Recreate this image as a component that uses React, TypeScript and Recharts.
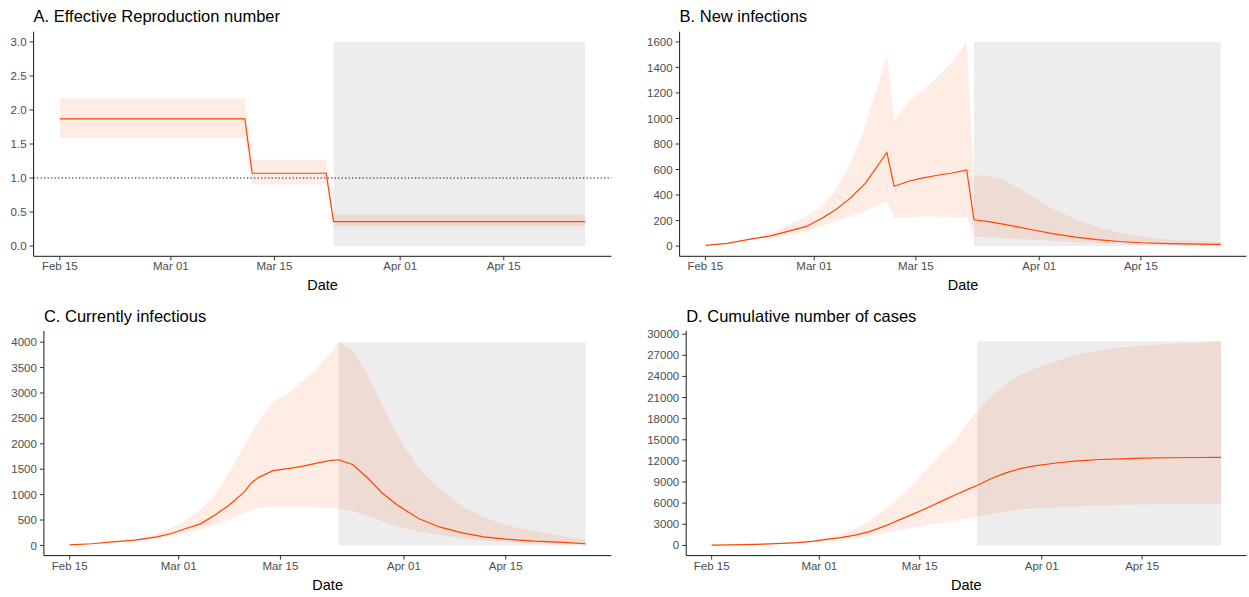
import React from 'react';
import {
  ComposedChart,
  Area,
  Line,
  XAxis,
  YAxis,
  ReferenceArea,
  ReferenceLine,
} from 'recharts';

// day index 0 = Feb 15
const days = [0, 3, 6, 9, 12, 14, 16, 18, 20, 22, 24, 25, 26, 28, 30, 32, 34, 36, 37, 39, 41, 43, 45, 48, 51, 54, 57, 60, 64, 68, 71];
const dateTicks = [0, 15, 29, 46, 60];
const dateLabels = ['Feb 15', 'Mar 01', 'Mar 15', 'Apr 01', 'Apr 15'];
const shadeStart = 37;
const shadeEnd = 71;

// A. Effective reproduction number
const rMid = [1.87, 1.87, 1.87, 1.87, 1.87, 1.87, 1.87, 1.87, 1.87, 1.87, 1.87, 1.87, 1.07, 1.07, 1.07, 1.07, 1.07, 1.07, 0.36, 0.36, 0.36, 0.36, 0.36, 0.36, 0.36, 0.36, 0.36, 0.36, 0.36, 0.36, 0.36];
const rLo = [1.59, 1.59, 1.59, 1.59, 1.59, 1.59, 1.59, 1.59, 1.59, 1.59, 1.59, 1.59, 0.91, 0.91, 0.91, 0.91, 0.91, 0.91, 0.29, 0.29, 0.29, 0.29, 0.29, 0.29, 0.29, 0.29, 0.29, 0.29, 0.29, 0.29, 0.29];
const rHi = [2.17, 2.17, 2.17, 2.17, 2.17, 2.17, 2.17, 2.17, 2.17, 2.17, 2.17, 2.17, 1.27, 1.27, 1.27, 1.27, 1.27, 1.27, 0.46, 0.46, 0.46, 0.46, 0.46, 0.46, 0.46, 0.46, 0.46, 0.46, 0.46, 0.46, 0.46];

// B. New infections
const newMid = [5, 22, 52, 80, 125, 156, 216, 287, 378, 490, 651, 734, 469, 508, 534, 555, 573, 596, 206, 192, 172, 150, 128, 96, 70, 50, 36, 26, 19, 15, 13];
const newLo = [4, 18, 45, 65, 91, 117, 156, 195, 234, 273, 325, 351, 221, 226, 231, 230, 228, 226, 78, 70, 62, 56, 52, 42, 31, 24, 18, 13, 9, 6, 5];
const newHi = [5, 24, 58, 100, 182, 234, 312, 443, 651, 937, 1301, 1496, 984, 1132, 1223, 1327, 1444, 1595, 556, 552, 520, 460, 390, 286, 210, 150, 105, 78, 50, 38, 31];

// C. Currently infectious
const curMid = [10, 33, 72, 105, 170, 235, 333, 425, 600, 800, 1050, 1230, 1340, 1471, 1510, 1556, 1621, 1673, 1686, 1588, 1327, 1033, 804, 529, 359, 248, 170, 124, 85, 59, 33];
const curLo = [8, 30, 65, 90, 137, 183, 248, 314, 412, 510, 641, 690, 739, 758, 758, 755, 748, 739, 725, 673, 575, 477, 379, 281, 203, 137, 98, 72, 39, 26, 13];
const curHi = [10, 35, 78, 125, 229, 346, 500, 700, 1000, 1450, 1950, 2200, 2450, 2820, 3000, 3230, 3480, 3800, 4000, 3843, 3353, 2765, 2176, 1523, 1098, 771, 556, 399, 281, 183, 118];

// D. Cumulative number of cases
const cumMid = [30, 60, 140, 240, 380, 560, 850, 1100, 1450, 1950, 2700, 3100, 3550, 4400, 5300, 6250, 7200, 8100, 8500, 9500, 10300, 10900, 11300, 11700, 12000, 12200, 12300, 12400, 12450, 12480, 12500];
const cumLo = [20, 40, 100, 180, 320, 430, 600, 780, 1000, 1300, 1700, 1900, 2100, 2500, 2850, 3150, 3500, 3850, 4100, 4500, 4800, 5050, 5250, 5400, 5550, 5650, 5750, 5800, 5850, 5870, 5880];
const cumHi = [30, 60, 160, 260, 450, 700, 1050, 1600, 2400, 3500, 5000, 5800, 6700, 8600, 10800, 13000, 15000, 17800, 19000, 21200, 22900, 24200, 25100, 26200, 27100, 27700, 28100, 28400, 28600, 28800, 29000];

const rTicks = [0, 0.5, 1, 1.5, 2, 2.5, 3];
const newTicks = [0, 200, 400, 600, 800, 1000, 1200, 1400, 1600];
const curTicks = [0, 500, 1000, 1500, 2000, 2500, 3000, 3500, 4000];
const cumTicks = [0, 3000, 6000, 9000, 12000, 15000, 18000, 21000, 24000, 27000, 30000];

const FONT = '"Liberation Sans", Arial, Helvetica, sans-serif';
const RED = '#FF4500';

function buildRows(mid: number[], lo: number[], hi: number[]) {
  return days.map((day, i) => ({ day, mid: mid[i], band: [lo[i], hi[i]] }));
}

interface PanelProps {
  title: string;
  left: number;
  top: number;
  width: number;
  height: number;
  yWidth: number;
  plotTop: number;
  plotRight: number;
  yDomain: [number, number];
  yTicks: number[];
  yFormat?: (v: number) => string;
  shadeTop: number;
  rows: any[];
  refLine?: number;
}

function Panel({ title, left, top, width, height, yWidth, plotTop, plotRight, yDomain, yTicks, yFormat, shadeTop, rows, refLine }: PanelProps) {
  const xHeight = 34;
  const plotBottom = plotTop + 224.6;
  return (
    <div style={{ position: 'absolute', left, top, width, height }}>
      <ComposedChart
        width={width}
        height={height}
        data={rows}
        margin={{ top: plotTop, right: width - plotRight, bottom: height - plotBottom - xHeight, left: 0 }}
      >
        <XAxis
          dataKey="day"
          type="number"
          domain={[-3.55, 74.55]}
          ticks={dateTicks}
          interval={0}
          allowDataOverflow
          height={xHeight}
          tickFormatter={(v) => dateLabels[dateTicks.indexOf(v)]}
          tick={{ fill: '#4D4D4D', fontSize: 11.5, fontFamily: FONT }}
          tickSize={4}
          tickMargin={2}
          axisLine={{ stroke: '#1a1a1a', strokeWidth: 1 }}
          tickLine={{ stroke: '#333333' }}
          label={{ value: 'Date', position: 'insideBottom', offset: 0, fill: '#000', fontSize: 14.5, fontFamily: FONT }}
        />
        <YAxis
          type="number"
          width={yWidth}
          domain={yDomain}
          ticks={yTicks}
          interval={0}
          allowDataOverflow
          tickFormatter={yFormat}
          tick={{ fill: '#4D4D4D', fontSize: 11.5, fontFamily: FONT }}
          tickSize={4}
          tickMargin={3}
          axisLine={{ stroke: '#1a1a1a', strokeWidth: 1 }}
          tickLine={{ stroke: '#333333' }}
        />
        <ReferenceArea x1={shadeStart} x2={shadeEnd} y1={0} y2={shadeTop} fill="#EDEDED" fillOpacity={1} stroke="none" />
        <Area
          type="linear"
          dataKey="band"
          stroke="none"
          fill={RED}
          fillOpacity={0.1}
          isAnimationActive={false}
          activeDot={false}
        />
        <Line
          type="linear"
          dataKey="mid"
          stroke={RED}
          strokeWidth={1.2}
          dot={false}
          activeDot={false}
          isAnimationActive={false}
        />
        {refLine !== undefined && (
          <ReferenceLine y={refLine} stroke="#000" strokeWidth={1.1} strokeDasharray="1.2 2.3" />
        )}
      </ComposedChart>
      <div
        style={{
          position: 'absolute',
          left: yWidth,
          top: 7,
          fontSize: 16.5,
          lineHeight: '18px',
          fontFamily: FONT,
          color: '#000',
          whiteSpace: 'nowrap',
        }}
      >
        {title}
      </div>
    </div>
  );
}

export default function App() {
  return (
    <div style={{ position: 'absolute', left: 0, top: 0, width: 1249, height: 597, background: '#fff', fontFamily: FONT }}>
      <Panel
        title="A. Effective Reproduction number"
        left={0}
        top={0}
        width={620}
        height={298}
        yWidth={33.6}
        plotTop={31.7}
        plotRight={611.4}
        yDomain={[-0.15, 3.15]}
        yTicks={rTicks}
        yFormat={(v) => v.toFixed(1)}
        shadeTop={3}
        rows={buildRows(rMid, rLo, rHi)}
        refLine={1}
      />
      <Panel
        title="B. New infections"
        left={625}
        top={0}
        width={624}
        height={298}
        yWidth={54.6}
        plotTop={31.7}
        plotRight={621.5}
        yDomain={[-80, 1680]}
        yTicks={newTicks}
        shadeTop={1600}
        rows={buildRows(newMid, newLo, newHi)}
      />
      <Panel
        title="C. Currently infectious"
        left={0}
        top={300}
        width={620}
        height={297}
        yWidth={43.9}
        plotTop={31}
        plotRight={611.4}
        yDomain={[-200, 4220]}
        yTicks={curTicks}
        shadeTop={4000}
        rows={buildRows(curMid, curLo, curHi)}
      />
      <Panel
        title="D. Cumulative number of cases"
        left={625}
        top={300}
        width={624}
        height={297}
        yWidth={61.2}
        plotTop={31}
        plotRight={621.5}
        yDomain={[-1450, 30450]}
        yTicks={cumTicks}
        shadeTop={29000}
        rows={buildRows(cumMid, cumLo, cumHi)}
      />
    </div>
  );
}
